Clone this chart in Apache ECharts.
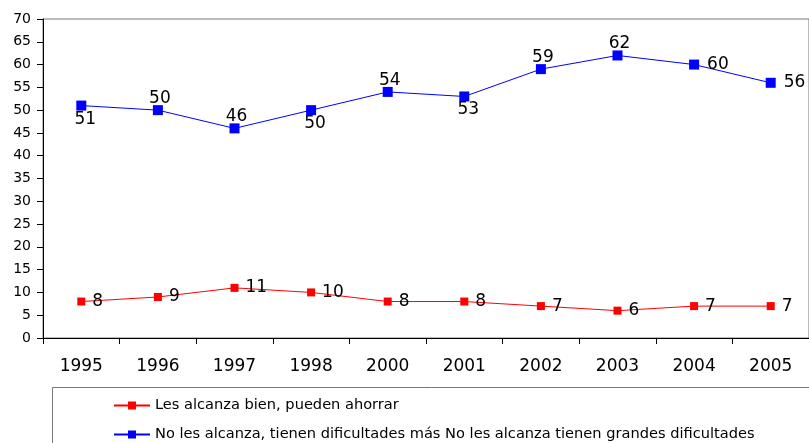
<!DOCTYPE html>
<html><head><meta charset="utf-8">
<script src="https://cdn.jsdelivr.net/npm/echarts@6/dist/echarts.min.js"></script>
<style>html,body{margin:0;padding:0;background:#fff}#c{width:809px;height:443px}</style>
</head><body><div id="c"></div>
<script>
var years = ['1995','1996','1997','1998','2000','2001','2002','2003','2004','2005'];
var seriesRedName = 'Les alcanza bien, pueden ahorrar';
var seriesBlueName = 'No les alcanza, tienen dificultades más No les alcanza tienen grandes dificultades';
var redValues = [8, 9, 11, 10, 8, 8, 7, 6, 7, 7];
var blueValues = [51, 50, 46, 50, 54, 53, 59, 62, 60, 56];
var blueLabelPos = ['bottom','top','top','bottom','top','bottom','top','top','right','right'];
var labelDist = {top: -2, bottom: 0, right: 8};
var labelShift = {top: [2, 0], bottom: [4, 0], right: [0, 0]};

var chart = echarts.init(document.getElementById('c'));
var font = 'DejaVu Sans, Liberation Sans, sans-serif';
var legendCommon = {
  orient: 'horizontal', left: 108,
  itemWidth: 36, itemHeight: 10,
  textStyle: {color: '#000', fontSize: 14.6, fontFamily: font}
};
chart.setOption({
  animation: false,
  backgroundColor: '#fff',
  grid: {left: 43, top: 19, width: 770, height: 319, show: true, borderColor: '#777', borderWidth: 1, backgroundColor: 'transparent'},
  xAxis: {
    type: 'category', data: years, boundaryGap: true,
    axisLine: {lineStyle: {color: '#000', width: 1}},
    axisTick: {show: true, length: 6, lineStyle: {color: '#000'}},
    axisLabel: {color: '#000', fontSize: 17, fontFamily: font, margin: 20}
  },
  yAxis: {
    type: 'value', min: 0, max: 70, interval: 5,
    axisLine: {show: true, lineStyle: {color: '#000', width: 1}},
    axisTick: {show: true, length: 6, lineStyle: {color: '#000'}},
    splitLine: {show: false},
    axisLabel: {color: '#000', fontSize: 14, fontFamily: font, margin: 12}
  },
  legend: [
    Object.assign({}, legendCommon, {top: 393, data: [seriesRedName]}),
    Object.assign({}, legendCommon, {top: 422, data: [seriesBlueName]})
  ],
  graphic: [{type: 'rect', shape: {x: 52.5, y: 387.5, width: 800, height: 100}, style: {fill: 'none', stroke: '#777', lineWidth: 1}, z: -1}],
  series: [
    {
      name: seriesRedName, type: 'line', data: redValues,
      symbol: 'rect', symbolSize: 8,
      itemStyle: {color: '#ff0000'}, lineStyle: {color: '#ff0000', width: 1},
      label: {show: true, position: 'right', distance: 7, color: '#000', fontSize: 17, fontFamily: font}
    },
    {
      name: seriesBlueName, type: 'line',
      data: blueValues.map(function (v, i) { var p = blueLabelPos[i]; return {value: v, label: {position: p, distance: labelDist[p], offset: labelShift[p]}}; }),
      symbol: 'rect', symbolSize: 10,
      itemStyle: {color: '#0000ff'}, lineStyle: {color: '#0000ff', width: 1},
      label: {show: true, color: '#000', fontSize: 17, fontFamily: font}
    }
  ]
});
</script></body></html>
